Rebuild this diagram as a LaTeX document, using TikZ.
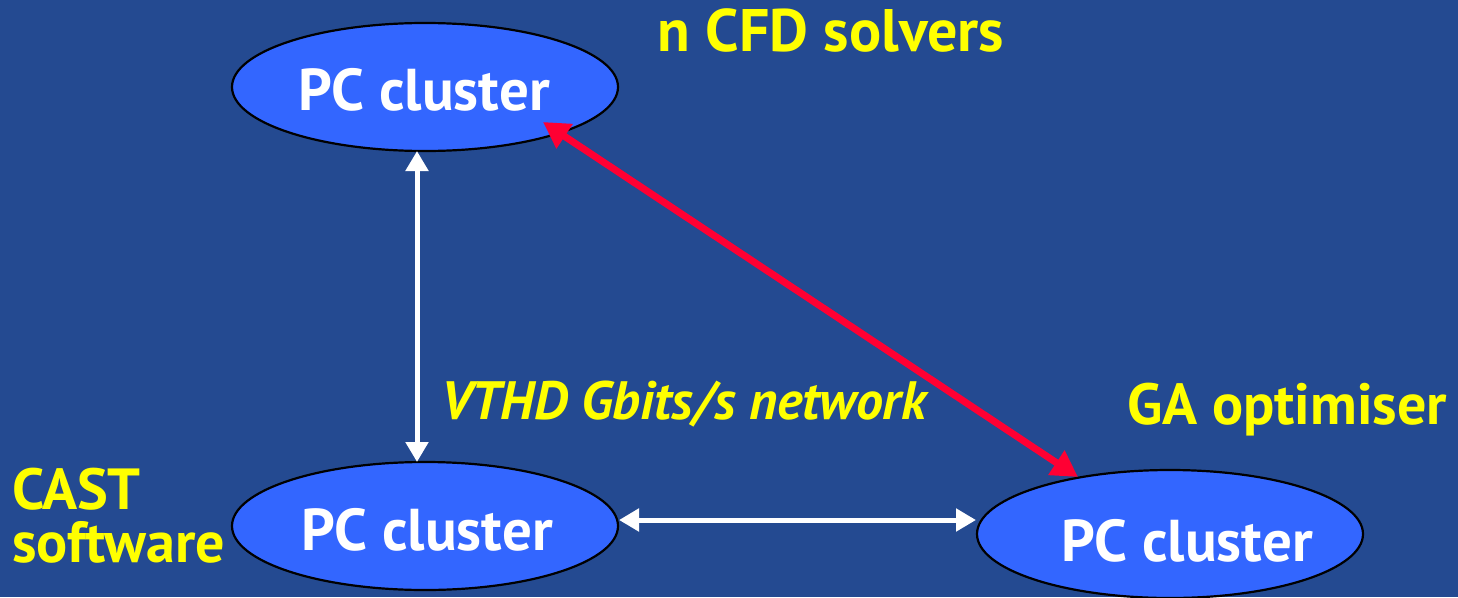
\documentclass[tikz,border=0pt]{standalone}
\usepackage{fontspec}
\setmainfont{PT Sans}
\usetikzlibrary{shapes.geometric,arrows.meta}
\definecolor{bgblue}{HTML}{244A91}
\definecolor{cluster}{HTML}{3366FF}
\definecolor{linkred}{HTML}{FF0033}
\definecolor{labelyellow}{HTML}{FFFF00}
\begin{document}
\begin{tikzpicture}[x=1pt,y=-1pt,
  pcnode/.style={ellipse,draw=black,line width=2.2pt,fill=cluster,
    minimum width=386pt,minimum height=128pt,inner sep=0pt},
  pctext/.style={text=white,font=\fontsize{59}{62}\selectfont\bfseries,inner sep=0pt},
  tag/.style={text=labelyellow,font=\fontsize{58}{62}\selectfont\bfseries,inner sep=0pt},
  whitelink/.style={white,line width=5pt,{Triangle[length=20pt,width=22pt]}-{Triangle[length=20pt,width=22pt]}},
  redlink/.style={linkred,line width=7pt,{Triangle[length=26pt,width=28pt]}-{Triangle[length=26pt,width=28pt]}}]
  % page and background
  \fill[bgblue] (0,0) rectangle (1458,597);
  \useasboundingbox (0,0) rectangle (1458,597);

  % the three clusters
  \node[pcnode] (top) at (425,87) {};
  \node[pcnode] (left) at (425,526) {};
  \node[pcnode] (right) at (1170,534) {};
  \node[pctext] (toptxt) at (424,90) {PC cluster};
  \node[pctext] (lefttxt) at (427,530) {PC cluster};
  \node[pctext] (righttxt) at (1187,541) {PC cluster};

  % network links
  \coordinate (vtop) at (417,151);
  \coordinate (vbot) at (417,462);
  \coordinate (hl) at (619,520);
  \coordinate (hr) at (976,520);
  \coordinate (rtop) at (543,122);
  \coordinate (rbot) at (1078,477);
  \draw[whitelink] (vtop) -- (vbot);
  \draw[whitelink] (hl) -- (hr);
  \draw[redlink] (rtop) -- (rbot);

  % labels
  \node[tag,font=\fontsize{60}{62}\selectfont\bfseries] (cfd) at (831,30) {n CFD solvers};
  \node[tag] (ga) at (1287,410) {GA optimiser};
  \node[tag,align=left,anchor=west,font=\fontsize{58}{53}\selectfont\bfseries] (cast) at (12,516) {CAST\\software};
  \node[tag,font=\fontsize{54}{58}\selectfont\bfseries\itshape] (vthd) at (684,404) {VTHD Gbits/s network};
\end{tikzpicture}
\end{document}
